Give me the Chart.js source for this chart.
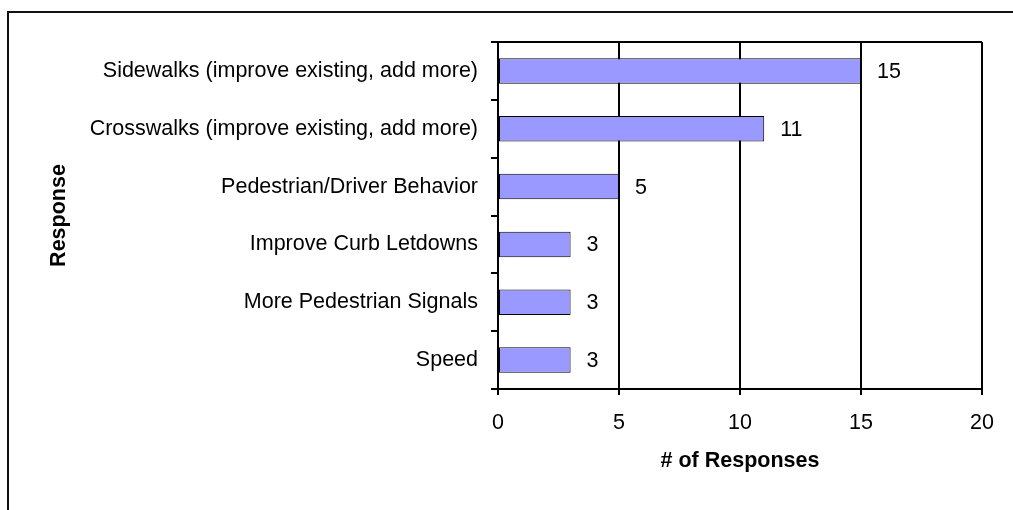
<!DOCTYPE html>
<html lang="en">
<head>
    <meta charset="UTF-8">
    <title>Responses</title>
    <script src="https://cdn.jsdelivr.net/npm/chart.js"></script>
    <style>
        html, body { margin: 0; padding: 0; background: #ffffff; }
        #wrap { width: 1013px; height: 510px; position: relative; }
    </style>
</head>
<body>
    <div id="wrap"><canvas id="chart" width="1013" height="510"></canvas></div>

    <script>
        // --- Daten ---
        const categories = [
            'Sidewalks (improve existing, add more)',
            'Crosswalks (improve existing, add more)',
            'Pedestrian/Driver Behavior',
            'Improve Curb Letdowns',
            'More Pedestrian Signals',
            'Speed'
        ];
        const responses = [15, 11, 5, 3, 3, 3];
        const xTicks = [0, 5, 10, 15, 20];

        const FONT = "'Liberation Sans', Arial, sans-serif";
        const SIZE = 21.5;

        // Rahmen links/oben und obere Linie der Zeichenfläche
        const framePlugin = {
            id: 'frame',
            beforeDraw(chart) {
                const ctx = chart.ctx;
                ctx.save();
                ctx.fillStyle = '#ffffff';
                ctx.fillRect(0, 0, chart.width, chart.height);
                ctx.strokeStyle = '#111111';
                ctx.lineWidth = 2;
                ctx.beginPath();
                ctx.moveTo(8, chart.height);
                ctx.lineTo(8, 12);
                ctx.lineTo(chart.width, 12);
                ctx.stroke();
                ctx.restore();
            },
            afterDatasetsDraw(chart) {
                const { ctx, chartArea } = chart;
                ctx.save();
                ctx.strokeStyle = '#000000';
                ctx.lineWidth = 2;
                ctx.beginPath();
                ctx.moveTo(chartArea.left - 7, chartArea.top);
                ctx.lineTo(chartArea.right, chartArea.top);
                ctx.stroke();
                ctx.restore();
            }
        };

        // Werte rechts neben den Balken
        const valueLabels = {
            id: 'valueLabels',
            afterDatasetsDraw(chart) {
                const ctx = chart.ctx;
                const meta = chart.getDatasetMeta(0);
                ctx.save();
                ctx.fillStyle = '#000000';
                ctx.font = SIZE + 'px ' + FONT;
                ctx.textAlign = 'left';
                ctx.textBaseline = 'middle';
                meta.data.forEach((bar, i) => {
                    ctx.fillText(String(responses[i]), bar.x + 16, bar.y + 1);
                });
                ctx.restore();
            }
        };

        new Chart(document.getElementById('chart'), {
            type: 'bar',
            data: {
                labels: categories,
                datasets: [{
                    data: responses,
                    backgroundColor: '#9999ff',
                    borderColor: '#000000',
                    borderWidth: 1,
                    borderSkipped: false,
                    barPercentage: 0.44,
                    categoryPercentage: 1.0
                }]
            },
            options: {
                indexAxis: 'y',
                responsive: false,
                animation: false,
                layout: { padding: { top: 42, right: 31, bottom: 0, left: 0 } },
                plugins: {
                    legend: { display: false },
                    tooltip: { enabled: false }
                },
                scales: {
                    x: {
                        min: 0,
                        max: 20,
                        afterBuildTicks(scale) {
                            scale.ticks = xTicks.map(v => ({ value: v }));
                        },
                        afterFit(scale) { scale.height = 121; },
                        grid: {
                            color: '#000000',
                            lineWidth: 2,
                            tickColor: '#000000',
                            tickLength: 6
                        },
                        border: { color: '#000000', width: 2 },
                        ticks: {
                            color: '#000000',
                            padding: 15,
                            maxRotation: 0,
                            font: { family: FONT, size: SIZE }
                        },
                        title: {
                            display: true,
                            text: '# of Responses',
                            color: '#000000',
                            font: { family: FONT, size: SIZE, weight: 'bold' },
                            padding: { top: 4, bottom: 36 }
                        }
                    },
                    y: {
                        afterFit(scale) { scale.width = 498; },
                        grid: {
                            offset: true,
                            drawOnChartArea: false,
                            color: '#000000',
                            lineWidth: 2,
                            tickColor: '#000000',
                            tickLength: 7
                        },
                        border: { color: '#000000', width: 2 },
                        ticks: {
                            color: '#000000',
                            padding: 13,
                            autoSkip: false,
                            font: { family: FONT, size: SIZE }
                        },
                        title: {
                            display: true,
                            text: 'Response',
                            color: '#000000',
                            font: { family: FONT, size: SIZE, weight: 'bold' },
                            padding: { top: 46, bottom: 0 }
                        }
                    }
                }
            },
            plugins: [framePlugin, valueLabels]
        });
    </script>
</body>
</html>
